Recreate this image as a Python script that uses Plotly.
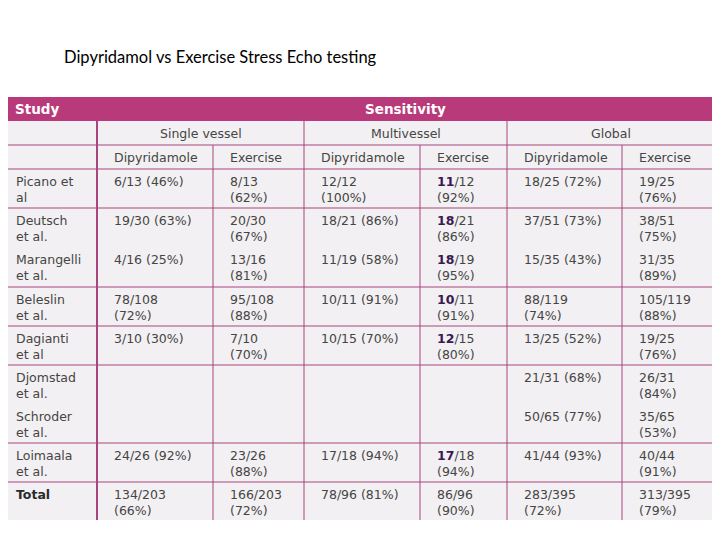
import plotly.graph_objects as go

# ---------------- data ----------------
title_text = "Dipyridamol vs Exercise Stress Echo testing"
group_header = "Sensitivity"
study_header = "Study"
groups = ["Single vessel", "Multivessel", "Global"]
subheaders = ["Dipyridamole", "Exercise", "Dipyridamole", "Exercise", "Dipyridamole", "Exercise"]

studies = ["Picano et|al", "Deutsch|et al.", "Marangelli|et al.", "Beleslin|et al.",
           "Dagianti|et al", "Djomstad|et al.", "Schroder|et al.", "Loimaala|et al.", "Total"]

single_dip = ["6/13 (46%)", "19/30 (63%)", "4/16 (25%)", "78/108 (72%)", "3/10 (30%)",
              "", "", "24/26 (92%)", "134/203 (66%)"]
single_ex = ["8/13 (62%)", "20/30 (67%)", "13/16 (81%)", "95/108 (88%)", "7/10 (70%)",
             "", "", "23/26 (88%)", "166/203 (72%)"]
multi_dip = ["12/12 (100%)", "18/21 (86%)", "11/19 (58%)", "10/11 (91%)", "10/15 (70%)",
             "", "", "17/18 (94%)", "78/96 (81%)"]
multi_ex = ["11/12 (92%)", "18/21 (86%)", "18/19 (95%)", "10/11 (91%)", "12/15 (80%)",
            "", "", "17/18 (94%)", "86/96 (90%)"]
global_dip = ["18/25 (72%)", "37/51 (73%)", "15/35 (43%)", "88/119 (74%)", "13/25 (52%)",
              "21/31 (68%)", "50/65 (77%)", "41/44 (93%)", "283/395 (72%)"]
global_ex = ["19/25 (76%)", "38/51 (75%)", "31/35 (89%)", "105/119 (88%)", "19/25 (76%)",
             "26/31 (84%)", "35/65 (53%)", "40/44 (91%)", "313/395 (79%)"]

columns = [single_dip, single_ex, multi_dip, multi_ex, global_dip, global_ex]

# ---------------- layout geometry (page-pixel coordinates) ----------------
W, H = 720, 540
OFF = 8  # default page body margin
T_LEFT, T_RIGHT, T_OUTER = 5, 714, 717
col_edges = [97, 213, 304, 420, 507, 622, 714]
header_top, header_bot = 97, 121
row2_bot, row3_bot = 145, 169
row_tops = [169, 208, 247, 287, 326, 365, 404, 443, 482]
table_bot = 520
no_line_above = {2, 6}   # rows sharing a block with the row above (no separator)

BG = "#f2f0f2"
BAR = "#b93a7b"
LINE = "#a8457c"
TXT = "#454545"
FONT = "DejaVu Sans"
FS = 12.5

fig = go.Figure()
fig.add_trace(go.Scatter(x=[OFF, W], y=[OFF, H], mode="markers",
                         marker=dict(opacity=0), hoverinfo="skip", showlegend=False))

shapes = []
shapes.append(dict(type="rect", xref="x", yref="y", x0=T_LEFT, x1=T_OUTER, y0=header_top, y1=table_bot,
                   fillcolor=BG, line=dict(width=0), layer="below"))
shapes.append(dict(type="rect", xref="x", yref="y", x0=T_LEFT, x1=T_OUTER, y0=header_top, y1=header_bot,
                   fillcolor=BAR, line=dict(width=0), layer="below"))

def hline(y, x0=T_LEFT, x1=T_RIGHT, w=1):
    shapes.append(dict(type="line", xref="x", yref="y", x0=x0, x1=x1, y0=y, y1=y,
                       line=dict(color=LINE, width=w)))

def vline(x, y0, y1, w=1):
    shapes.append(dict(type="line", xref="x", yref="y", x0=x, x1=x, y0=y0, y1=y1,
                       line=dict(color=LINE, width=w)))

hline(row2_bot)
hline(row3_bot)
for i, t in enumerate(row_tops):
    if i == 0 or i in no_line_above:
        continue
    hline(t)

vline(col_edges[0], header_bot, table_bot, w=2)
for k, x in enumerate(col_edges[1:], start=1):
    if k % 2 == 0:
        vline(x, header_bot, table_bot)
    else:
        vline(x, row2_bot, table_bot)

annotations = []

def txt(x, y, s, anchor="left", size=FS, color=TXT, bold=False, family=FONT):
    if bold:
        s = "<b>" + s + "</b>"
    annotations.append(dict(x=x, y=y, xref="x", yref="y", text=s, showarrow=False,
                            xanchor=anchor, yanchor="top", align="left",
                            font=dict(family=family, size=size, color=color)))

annotations.append(dict(x=62, y=57, xref="x", yref="y", text=title_text, showarrow=False,
                        xanchor="left", yanchor="middle",
                        font=dict(family="Lato", size=16.5, color="#000000")))

txt(13, 99, study_header, size=13.5, color="white", bold=True)
txt(405, 99, group_header, anchor="center", size=13.5, color="white", bold=True)

for g, name in enumerate(groups):
    xc = (col_edges[2 * g] + col_edges[2 * g + 2]) / 2
    txt(xc, 124, name, anchor="center")

for c, name in enumerate(subheaders):
    txt(col_edges[c] + 15, 148, name)

def wrap(s, is_ex):
    if not s:
        return s
    if is_ex or len(s) > 11:
        a, b = s.split(" ", 1)
        return a + "<br>" + b
    return s

for r, study in enumerate(studies):
    y = row_tops[r] + 3
    is_total = study == "Total"
    txt(14, y, study.replace("|", "<br>"), bold=is_total, color="#2a2a2a" if is_total else TXT)
    for c, col in enumerate(columns):
        s = wrap(col[r], c % 2 == 1)
        if c == 3 and s and not is_total:
            frac = s.split("/", 1)
            s = "<b><span style='color:#3a1850'>" + frac[0] + "</span></b>/" + frac[1]
        txt(col_edges[c] + 15, y, s)

fig.update_layout(
    width=W, height=H, margin=dict(l=0, r=0, t=0, b=0),
    paper_bgcolor="white", plot_bgcolor="white",
    xaxis=dict(range=[OFF, W + OFF], visible=False, fixedrange=True),
    yaxis=dict(range=[H + OFF, OFF], visible=False, fixedrange=True),
    shapes=shapes, annotations=annotations, showlegend=False,
)
fig.write_html("out.html")
